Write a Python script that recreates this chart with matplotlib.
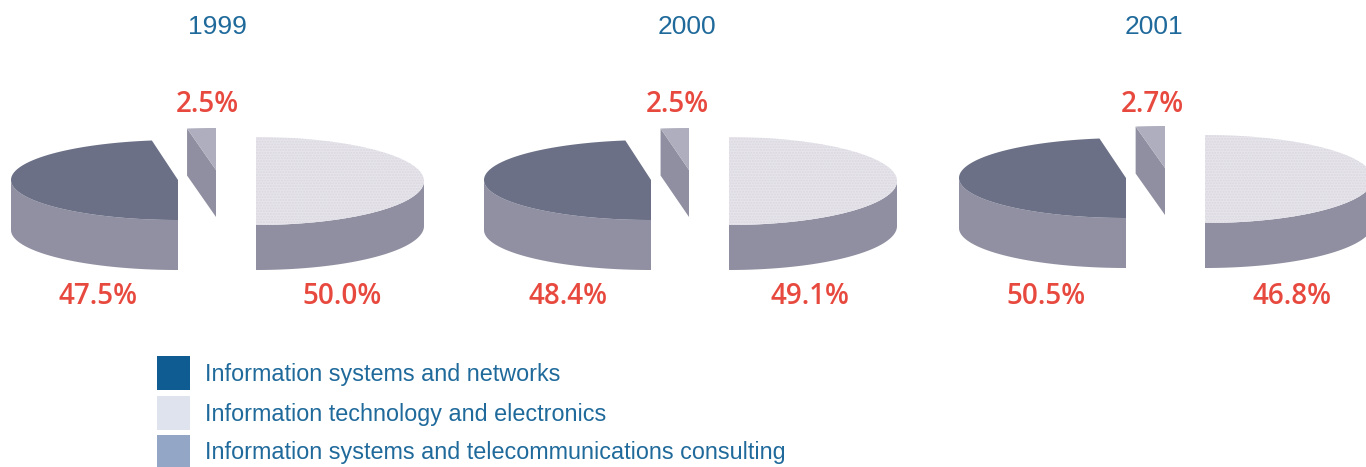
import numpy as np
import matplotlib
matplotlib.use("Agg")
import matplotlib.pyplot as plt
from matplotlib.patches import Polygon, Rectangle

years = ["1999", "2000", "2001"]
left_share = [47.5, 48.4, 50.5]
small_share = [2.5, 2.5, 2.7]
right_share = [50.0, 49.1, 46.8]
legend_labels = [
    "Information systems and networks",
    "Information technology and electronics",
    "Information systems and telecommunications consulting",
]

BLUE = "#1f6a9b"
RED = "#e8493f"
legend_colors = ["#0f5c92", "#dfe3ee", "#94a6c6"]

# pixel canvas, y goes down
fig = plt.figure(figsize=(13.66, 4.67), dpi=100)
ax = fig.add_axes([0, 0, 1, 1])
ax.set_xlim(0, 1366)
ax.set_ylim(467, 0)
ax.axis("off")

left_x = [178, 651, 1126]
small_x = [216, 689, 1165]
right_x = [256, 729, 1205]
year_x = [217, 687, 1154]
small_label_x = [207, 677, 1152]
left_label_x = [98, 568, 1046]
right_label_x = [342, 810, 1292]
lift = [0, 0, 2]
RX = 167
SMALL_RX = 185


def arc(cx, cy, rx, ry, a0, a1):
    t = np.radians(np.linspace(a0, a1, 120))
    return np.column_stack([cx + rx * np.cos(t), cy - ry * np.sin(t)])


def add_poly(pts, color, **kw):
    ax.add_patch(Polygon(pts, closed=True, facecolor=color, edgecolor=kw.pop("edge", "none"),
                         linewidth=0, **kw))


def red_label(x, y, value):
    ax.text(x, y, f"{value:.1f}%", color=RED, fontsize=20, family="Open Sans",
            weight="semibold", ha="center", va="center")


for i, year in enumerate(years):
    up = lift[i]
    # the left half is shared between the big wedge and the pulled-out one
    half = left_share[i] + small_share[i]
    small_deg = 180 * small_share[i] / half
    cut = 90 + small_deg

    # left wedge
    cx, cy, ry, depth = left_x[i], 180 - up, 40, 50
    rim = arc(cx, cy, RX, ry, 180, 270)
    add_poly(np.vstack([rim, rim[::-1] + [0, depth]]), "#9090a2")
    add_poly(np.vstack([[[cx, cy]], arc(cx, cy, RX, ry, cut, 270)]), "#6b7086")

    # pulled-out wedge, cut face below its top
    cx, cy, ry, depth = small_x[i], 170 - up, 42, 47
    top = arc(cx, cy, SMALL_RX, ry, 90, cut)
    corner = top[-1]
    add_poly([[cx, cy], corner, corner + [0, depth], [cx, cy + depth]], "#8f8fa1")
    add_poly(np.vstack([[[cx, cy]], top]), "#aeaebe")

    # right wedge
    cx, cy, ry, depth = right_x[i], 181 - up, 44, 45
    rim = arc(cx, cy, RX + 1, ry, -90, 0)
    add_poly(np.vstack([rim, rim[::-1] + [0, depth]]), "#8f8fa1")
    add_poly(arc(cx, cy, RX + 1, ry, -90, 90), "#e7e5eb", edge="#dad8e0", hatch="......")

    ax.text(year_x[i], 27, year, color=BLUE, fontsize=19, family="Liberation Sans",
            ha="center", va="center")
    red_label(small_label_x[i], 104, small_share[i])
    red_label(left_label_x[i], 297, left_share[i])
    red_label(right_label_x[i], 297, right_share[i])

# legend
legend_y = [373, 413, 452]
for y, color, label in zip(legend_y, legend_colors, legend_labels):
    ax.add_patch(Rectangle((157, y - 17), 33, 34, facecolor=color, edgecolor="none"))
    ax.text(205, y + 1, label, color=BLUE, fontsize=16.85, family="Liberation Sans",
            ha="left", va="center")

fig.savefig("out.png", dpi=100)
